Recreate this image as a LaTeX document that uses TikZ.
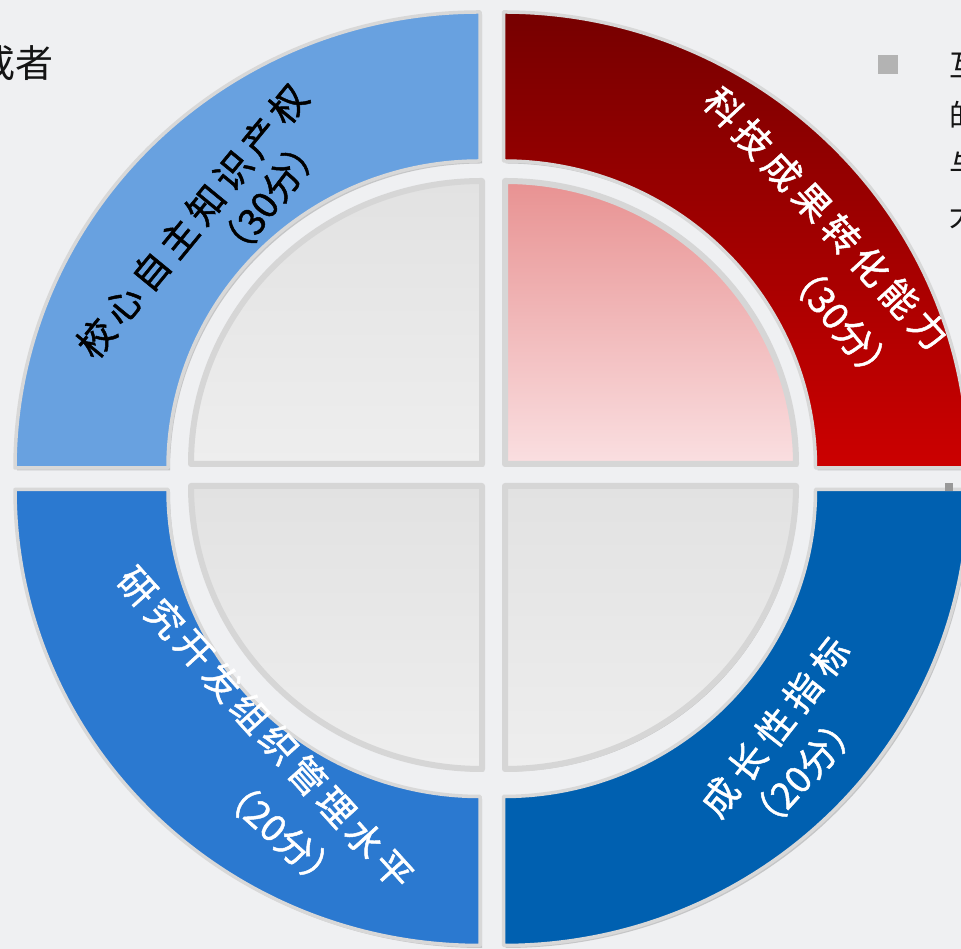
\documentclass[tikz,border=0pt]{standalone}
\usepackage{fontspec}
\newfontfamily\cjk{Noto Sans CJK SC}
\newfontfamily\cjkb[FakeBold=1.3]{Noto Sans CJK SC}
\usetikzlibrary{calc,shadows}
\definecolor{bg}{RGB}{239,240,242}
\definecolor{rimc}{RGB}{216,216,216}
\definecolor{diskrim}{RGB}{214,214,214}
\definecolor{tlblue}{RGB}{104,161,224}
\definecolor{blblue}{RGB}{43,121,208}
\definecolor{brblue}{RGB}{0,96,176}
\definecolor{redtop}{RGB}{118,0,0}
\definecolor{redbot}{RGB}{204,0,0}
\definecolor{pinktop}{RGB}{232,146,146}
\definecolor{pinkbot}{RGB}{250,223,225}
\definecolor{diskA}{RGB}{226,226,226}
\definecolor{diskB}{RGB}{238,238,238}
\definecolor{bulletc}{RGB}{179,179,179}
\definecolor{sidetext}{RGB}{20,20,20}
\newcommand\charline[7]{%
  \foreach \ch [count=\i from 0] in {#7} {%
    \node[lab, text=#6, rotate=#5] (#1\i) at ($#2!\i/#4!#3$) {\ch};
  }%
}
\begin{document}
\begin{tikzpicture}[x=1pt,y=1pt,
  ring/.style={draw=rimc, line width=3.5pt, line join=round,
    drop shadow={shadow xshift=2pt,shadow yshift=-2.5pt,opacity=0.3,fill=black!60}},
  disk/.style={draw=diskrim, line width=6pt, line join=round,
    drop shadow={shadow xshift=2pt,shadow yshift=-2.5pt,opacity=0.35,fill=black!60}},
  lab/.style={font=\cjkb\fontsize{37}{37}\selectfont, inner sep=0pt},
  side/.style={font=\cjk\fontsize{38}{38}\selectfont, inner sep=0pt, text=sidetext}]
\useasboundingbox (0,0) rectangle (961,949);
\clip (0,0) rectangle (961,949);
\fill[bg] (0,0) rectangle (961,949);

% ring segments
\path[ring, fill=tlblue, shift={(480,481)}] (-465,0) arc[start angle=180,end angle=90,x radius=465,y radius=456] -- (0,307) arc[start angle=90,end angle=180,x radius=312,y radius=307] -- cycle;
\path[ring, top color=redtop, bottom color=redbot, shift={(503.5,481)}] (0,456) arc[start angle=90,end angle=0,x radius=465,y radius=456] -- (312,0) arc[start angle=0,end angle=90,x radius=312,y radius=307] -- cycle;
\path[ring, fill=blblue, shift={(480,459.5)}] (-465,0) arc[start angle=180,end angle=270,x radius=465,y radius=456] -- (0,-307) arc[start angle=270,end angle=180,x radius=312,y radius=307] -- cycle;
\path[ring, fill=brblue, shift={(503.5,459.5)}] (0,-456) arc[start angle=270,end angle=360,x radius=465,y radius=456] -- (312,0) arc[start angle=0,end angle=-90,x radius=312,y radius=307] -- cycle;

% inner quarter disks
\path[disk, top color=diskA, bottom color=diskB, shift={(482,485)}] (0,0) -- (-291,0) arc[start angle=180,end angle=90,x radius=291,y radius=283] -- cycle;
\path[disk, top color=pinktop, bottom color=pinkbot, shift={(505,485)}] (0,0) -- (0,283) arc[start angle=90,end angle=0,x radius=291,y radius=283] -- cycle;
\path[disk, top color=diskA, bottom color=diskB, shift={(482,463)}] (0,0) -- (0,-283) arc[start angle=270,end angle=180,x radius=291,y radius=283] -- cycle;
\path[disk, top color=diskA, bottom color=diskB, shift={(505,463)}] (0,0) -- (291,0) arc[start angle=0,end angle=-90,x radius=291,y radius=283] -- cycle;

% ring texts
\charline{tl}{(96,611)}{(288,845)}{7}{50.6}{black}{校,心,自,主,知,识,产,权}
\node[lab, rotate=52.6] (tl2) at (269,751) {（30分）};
\charline{tr}{(724,842)}{(929,619)}{7}{-47.4}{white}{科,技,成,果,转,化,能,力}
\node[lab, text=white, rotate=-50.4] (tr2) at (841,627) {（30分）};
\charline{bl}{(137,362)}{(393,79)}{9}{-47.9}{white}{研,究,开,发,组,织,管,理,水,平}
\node[lab, text=white, rotate=-42] (bl2) at (280,116) {（20分）};
\charline{br}{(720,152)}{(830,292)}{4}{51.8}{white}{成,长,性,指,标}
\node[lab, text=white, rotate=47.6] (br2) at (803,176) {（20分）};

% cut-off side texts
\node[side] (lt) at (16,886) {或者};
\fill[bulletc] (878,875) rectangle (898,894);
\node[side, font=\cjk\fontsize{30}{30}\selectfont, anchor=west] (r1) at (949,884) {互};
\node[side, font=\cjk\fontsize{30}{30}\selectfont, anchor=west] (r2) at (949,834) {的};
\node[side, font=\cjk\fontsize{30}{30}\selectfont, anchor=west] (r3) at (949,784) {与};
\node[side, font=\cjk\fontsize{30}{30}\selectfont, anchor=west] (r4) at (949,734) {大};
\fill[black!40] (945,458) rectangle (953,466);
\end{tikzpicture}
\end{document}
